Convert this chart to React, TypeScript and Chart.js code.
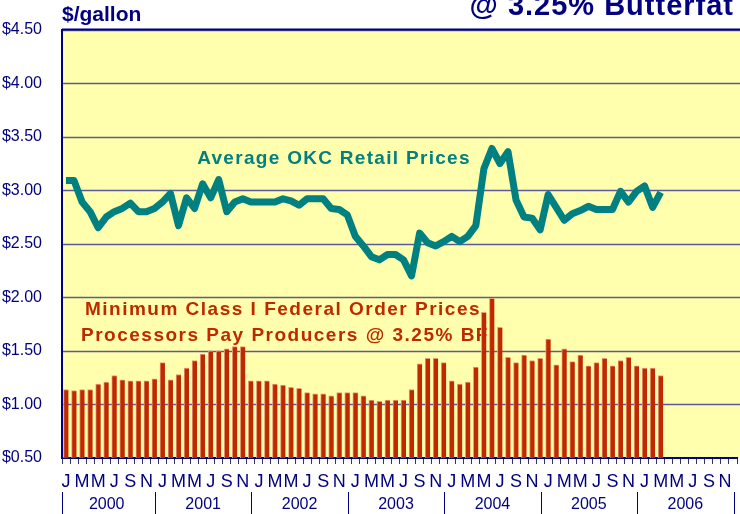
import React, { useEffect, useRef } from 'react';
import { Chart, registerables } from 'chart.js';

Chart.register(...registerables);

const MONTH_NAMES = ['Jan', 'Feb', 'Mar', 'Apr', 'May', 'Jun', 'Jul', 'Aug', 'Sep', 'Oct', 'Nov', 'Dec'];
const MONTH_LETTERS = ['J', 'F', 'M', 'A', 'M', 'J', 'J', 'A', 'S', 'O', 'N', 'D'];
const YEARS = ['2000', '2001', '2002', '2003', '2004', '2005', '2006'];
const CATEGORIES = YEARS.flatMap((y) => MONTH_NAMES.map((m) => `${m} ${y}`));
const Y_TICKS = [0.5, 1.0, 1.5, 2.0, 2.5, 3.0, 3.5, 4.0, 4.5];

// Minimum Class I Federal Order Prices ($/gallon @ 3.25% BF), Jan 2000 - Mar 2006
const CLASS_I_PRICES = [
  1.14, 1.13, 1.14, 1.14, 1.19, 1.21, 1.27, 1.23, 1.22, 1.22, 1.22, 1.24,
  1.39, 1.23, 1.28, 1.34, 1.41, 1.47, 1.50, 1.50, 1.52, 1.54, 1.54, 1.22,
  1.22, 1.22, 1.19, 1.18, 1.16, 1.15, 1.11, 1.10, 1.10, 1.08, 1.11, 1.11,
  1.11, 1.08, 1.04, 1.03, 1.04, 1.04, 1.04, 1.14, 1.38, 1.43, 1.43, 1.39,
  1.22, 1.19, 1.21, 1.35, 1.86, 1.99, 1.72, 1.44, 1.39, 1.46, 1.41, 1.43,
  1.61, 1.37, 1.52, 1.40, 1.46, 1.36, 1.39, 1.43, 1.36, 1.41, 1.44, 1.36,
  1.34, 1.34, 1.27,
];

// Average OKC Retail Prices ($/gallon), Jan 2000 - Mar 2006
const RETAIL_PRICES = [
  3.09, 3.09, 2.89, 2.80, 2.65, 2.75, 2.80, 2.83, 2.88, 2.80, 2.80, 2.83,
  2.89, 2.97, 2.67, 2.93, 2.83, 3.06, 2.93, 3.10, 2.80, 2.89, 2.92, 2.89,
  2.89, 2.89, 2.89, 2.92, 2.90, 2.86, 2.92, 2.92, 2.92, 2.83, 2.82, 2.77,
  2.57, 2.48, 2.38, 2.35, 2.40, 2.40, 2.35, 2.20, 2.60, 2.51, 2.48, 2.52,
  2.57, 2.52, 2.57, 2.67, 3.20, 3.39, 3.25, 3.36, 2.91, 2.75, 2.74, 2.63,
  2.96, 2.84, 2.72, 2.78, 2.81, 2.85, 2.82, 2.82, 2.82, 2.99, 2.89, 2.99,
  3.04, 2.84, 2.98,
];

const pad = (arr: number[]) => CATEGORIES.map((_, i) => (i < arr.length ? arr[i] : null));

const NAVY = '#000080';
const FONT = "'Liberation Sans', Arial, Helvetica, sans-serif";

const decorPlugin = {
  id: 'decor',
  beforeDraw(chart: any) {
    const { ctx, chartArea: a, scales } = chart;
    const y = scales.y;
    const W = chart.width;
    ctx.save();
    ctx.fillStyle = '#FFFFAD';
    ctx.fillRect(a.left, a.top, W - a.left, a.bottom - a.top);
    ctx.lineWidth = 1.5;
    ctx.strokeStyle = '#5A5A9C';
    for (const v of Y_TICKS) {
      if (v === 0.5) continue;
      const py = Math.round(y.getPixelForValue(v)) + 0.5;
      ctx.beginPath();
      ctx.moveTo(a.left, py);
      ctx.lineTo(W, py);
      ctx.stroke();
    }
    ctx.strokeStyle = NAVY;
    ctx.lineWidth = 2;
    ctx.beginPath();
    ctx.moveTo(a.left, a.top);
    ctx.lineTo(W, a.top);
    ctx.stroke();
    ctx.restore();
  },
  beforeDatasetsDraw(chart: any) {
    const { ctx } = chart;
    ctx.save();
    ctx.textAlign = 'center';
    ctx.textBaseline = 'middle';
    (ctx as any).letterSpacing = '1.3px';
    ctx.fillStyle = '#008080';
    ctx.font = `bold 19px ${FONT}`;
    ctx.fillText('Average OKC Retail Prices', 334, 159);
    (ctx as any).letterSpacing = '1.5px';
    ctx.fillStyle = '#BE2A00';
    ctx.font = `bold 19px ${FONT}`;
    ctx.fillText('Minimum Class I Federal Order Prices', 283, 310);
    ctx.fillText('Processors Pay Producers @ 3.25% BF', 285, 336);
    ctx.restore();
  },
  afterDraw(chart: any) {
    const { ctx, scales } = chart;
    const x = scales.x;
    const half = (x.getPixelForValue(1) - x.getPixelForValue(0)) / 2;
    ctx.save();
    ctx.fillStyle = NAVY;
    ctx.textBaseline = 'alphabetic';
    ctx.font = `bold 21px ${FONT}`;
    ctx.textAlign = 'left';
    ctx.fillText('$/gallon', 62, 21);
    ctx.font = `bold 29px ${FONT}`;
    ctx.textAlign = 'right';
    (ctx as any).letterSpacing = '1px';
    ctx.fillText('@ 3.25% Butterfat', 734, 15);
    (ctx as any).letterSpacing = '0px';

    // year separators and labels
    const shift = -3.5;
    ctx.strokeStyle = NAVY;
    ctx.lineWidth = 1;
    for (let k = 0; k <= YEARS.length; k++) {
      const px = Math.round(x.getPixelForValue(k * 12) - half + (k > 0 ? shift : 0)) + 0.5;
      ctx.beginPath();
      ctx.moveTo(px, 492);
      ctx.lineTo(px, 514);
      ctx.stroke();
    }
    ctx.font = `16px ${FONT}`;
    ctx.textAlign = 'center';
    ctx.textBaseline = 'middle';
    YEARS.forEach((yr, k) => {
      const cx = (x.getPixelForValue(k * 12) + x.getPixelForValue(k * 12 + 11)) / 2 + shift;
      ctx.fillText(yr, cx, 505);
    });
    ctx.restore();
  },
};

export default function App() {
  const ref = useRef<HTMLCanvasElement | null>(null);
  useEffect(() => {
    if (!ref.current) return;
    const chart = new Chart(ref.current, {
      type: 'bar',
      data: {
        labels: CATEGORIES,
        datasets: [
          {
            type: 'line',
            label: 'Average OKC Retail Prices',
            data: pad(RETAIL_PRICES),
            borderColor: '#008080',
            borderWidth: 7,
            pointRadius: 0,
            tension: 0,
            borderJoinStyle: 'round',
            spanGaps: false,
            order: 0,
          } as any,
          {
            type: 'bar',
            label: 'Minimum Class I Federal Order Prices',
            data: pad(CLASS_I_PRICES),
            backgroundColor: '#C02800',
            borderColor: '#E49A78',
            borderWidth: { left: 1, top: 1, right: 0, bottom: 0 },
            borderSkipped: false,
            barThickness: 5,
            order: 1,
          } as any,
        ],
      },
      options: {
        responsive: false,
        animation: false,
        devicePixelRatio: 1,
        layout: { padding: { top: 29, right: 2, left: 0, bottom: 0 } },
        plugins: { legend: { display: false }, tooltip: { enabled: false } },
        scales: {
          x: {
            offset: true,
            grid: {
              display: true,
              drawOnChartArea: false,
              drawTicks: true,
              tickLength: 6,
              color: '#333366',
              lineWidth: 1,
              offset: true,
            },
            border: { display: true, color: NAVY, width: 2 },
            ticks: {
              autoSkip: false,
              maxRotation: 0,
              minRotation: 0,
              padding: 7,
              color: NAVY,
              font: { size: 18, family: FONT },
              callback: (_v: any, idx: number) => (idx % 2 === 0 ? MONTH_LETTERS[idx % 12] : ''),
            },
            afterFit: (s: any) => {
              s.height = 56;
            },
          },
          y: {
            min: 0.5,
            max: 4.5,
            grid: { drawOnChartArea: false, drawTicks: false },
            border: { display: true, color: NAVY, width: 2 },
            ticks: {
              stepSize: 0.5,
              padding: 20,
              color: NAVY,
              font: { size: 16, family: FONT },
              callback: (v: any) => '$' + Number(v).toFixed(2),
            },
            afterFit: (s: any) => {
              s.width = 62;
            },
          },
        },
      },
      plugins: [decorPlugin],
    });
    return () => chart.destroy();
  }, []);
  return (
    <div style={{ position: 'fixed', left: 0, top: 0, width: 740, height: 514, background: '#ffffff' }}>
      <canvas ref={ref} width={740} height={514} style={{ width: 740, height: 514, display: 'block' }} />
    </div>
  );
}
